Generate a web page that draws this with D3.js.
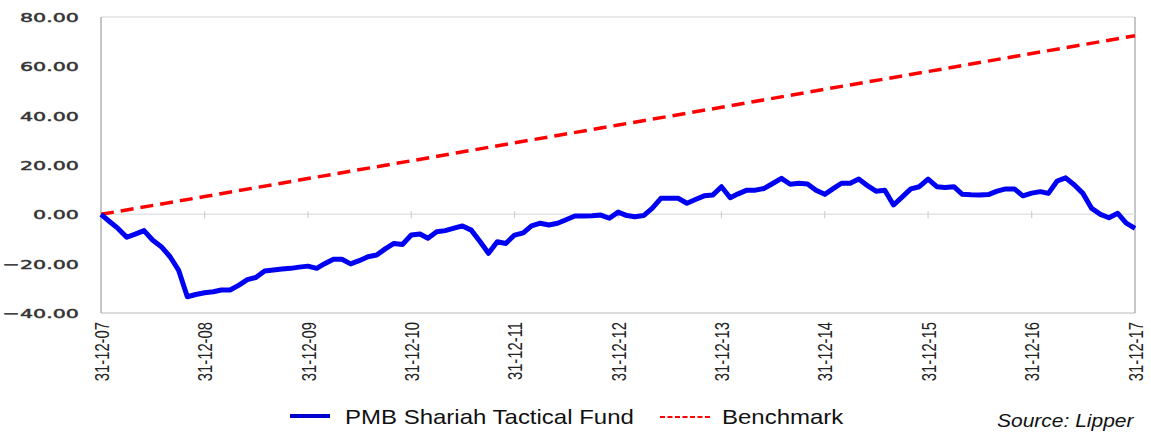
<!DOCTYPE html>
<html>
<head>
<meta charset="utf-8">
<script src="https://cdn.jsdelivr.net/npm/d3@7"></script>
<style>
  body { margin: 0; background: #fff; }
  svg { display: block; }
</style>
</head>
<body>
<svg id="chart" width="1151" height="432"></svg>
<script>
// fund cumulative return (%), one value per month end, 31-12-07 .. 31-12-17
var fundValues = [
  0, -3.0, -5.7, -9.3, -8.0, -6.6, -10.4, -13.1, -17.2, -22.6,
  -33.4, -32.5, -31.8, -31.4, -30.7, -30.7, -28.8, -26.5, -25.6, -23.0,
  -22.6, -22.2, -21.9, -21.4, -21.0, -21.9, -20.0, -18.2, -18.2, -20.1,
  -18.8, -17.2, -16.5, -14.0, -11.8, -12.2, -8.4, -8.0, -9.7, -7.1,
  -6.6, -5.6, -4.7, -6.4, -11.0, -15.8, -11.1, -11.8, -8.4, -7.5,
  -4.7, -3.6, -4.3, -3.6, -2.2, -0.7, -0.7, -0.6, -0.3, -1.6,
  0.9, -0.5, -1.0, -0.5, 2.4, 6.5, 6.5, 6.5, 4.5, 6.0,
  7.5, 7.8, 11.2, 6.7, 8.3, 9.8, 9.8, 10.5, 12.5, 14.6,
  12.2, 12.6, 12.3, 9.8, 8.1, 10.5, 12.6, 12.6, 14.3, 11.6,
  9.4, 9.8, 3.8, 7.0, 10.3, 11.2, 14.3, 11.2, 10.9, 11.2,
  8.1, 7.9, 7.8, 8.0, 9.4, 10.3, 10.3, 7.5, 8.6, 9.2,
  8.5, 13.5, 14.8, 11.9, 8.5, 2.4, 0.0, -1.4, 0.4, -3.6,
  -5.7
];

// benchmark at each year end
var benchYears = [2007, 2008, 2009, 2010, 2011, 2012, 2013, 2014, 2015, 2016, 2017];
var benchValues = [0, 7.2, 14.5, 21.7, 29.0, 36.2, 43.4, 50.7, 57.9, 65.2, 72.4];

var yTicks = [-40, -20, 0, 20, 40, 60, 80];

var fundName = "PMB Shariah Tactical Fund";
var benchName = "Benchmark";
var sourceText = "Source: Lipper";

var svg = d3.select("#chart");

// plot box (note: "top" is a reserved window property, so use other names)
var plotLeft = 101, plotRight = 1135, plotTop = 17, plotBottom = 313;

// month-end dates for the fund series
var fundData = fundValues.map(function (v, i) {
    return { date: new Date(2007, 12 + i, 0), value: v };
});
var benchData = benchYears.map(function (yr, i) {
    return { date: new Date(yr, 11, 31), value: benchValues[i] };
});

var x = d3.scaleTime()
    .domain([new Date(2007, 11, 31), new Date(2017, 11, 31)])
    .range([plotLeft, plotRight]);

var y = d3.scaleLinear()
    .domain([-40, 80])
    .range([plotBottom, plotTop]);

// frame
svg.append("line").attr("x1", plotLeft).attr("x2", plotRight).attr("y1", plotTop).attr("y2", plotTop)
    .attr("stroke", "#d4d4d4").attr("stroke-width", 1.2);
svg.append("line").attr("x1", plotLeft).attr("x2", plotRight).attr("y1", plotBottom).attr("y2", plotBottom)
    .attr("stroke", "#d0d0d0").attr("stroke-width", 1.5);
svg.append("line").attr("x1", plotLeft).attr("x2", plotLeft).attr("y1", plotTop).attr("y2", plotBottom)
    .attr("stroke", "#a0a0a0").attr("stroke-width", 1.2);
svg.append("line").attr("x1", plotRight).attr("x2", plotRight).attr("y1", plotTop).attr("y2", plotBottom)
    .attr("stroke", "#a0a0a0").attr("stroke-width", 1.2);

// zero line with year ticks
var tickDates = benchData.map(function (d) { return d.date; });
svg.append("line").attr("x1", plotLeft).attr("x2", plotRight).attr("y1", y(0)).attr("y2", y(0))
    .attr("stroke", "#e4e4e4").attr("stroke-width", 1.5);
svg.selectAll(".zt")
    .data(tickDates.slice(1, -1))
    .enter()
    .append("line")
    .attr("class", "zt")
    .attr("x1", d => x(d)).attr("x2", d => x(d))
    .attr("y1", y(0) - 3).attr("y2", y(0) + 4)
    .attr("stroke", "#cfcfcf").attr("stroke-width", 1.2);

// y axis labels
var yAxis = svg.append("g")
    .attr("transform", "translate(" + plotLeft + ",0)")
    .call(d3.axisLeft(y).tickValues(yTicks).tickFormat(d3.format(".2f")).tickSize(0));
yAxis.select(".domain").remove();
yAxis.selectAll("text")
    .attr("x", -22 / 1.6)
    .attr("dy", "0.36em")
    .attr("transform", "scale(1.6,1)")
    .style("font-family", "DejaVu Sans, Verdana, sans-serif")
    .style("font-size", "12.9px")
    .style("fill", "#333")
    .style("stroke", "#333")
    .style("stroke-width", 0.45);

// x axis labels (rotated)
var xAxis = svg.append("g")
    .attr("transform", "translate(0," + plotBottom + ")")
    .call(d3.axisBottom(x).tickValues(tickDates).tickFormat(d3.timeFormat("%d-%m-%y")).tickSize(0));
xAxis.select(".domain").remove();
xAxis.selectAll("text")
    .attr("x", 0)
    .attr("y", 0)
    .attr("dy", "0.36em")
    .attr("transform", "translate(0,9) rotate(-90) scale(0.74,1)")
    .style("text-anchor", "end")
    .style("font-family", "Liberation Sans, Arial, sans-serif")
    .style("font-size", "20px")
    .style("fill", "#222");

// series
var line = d3.line()
    .x(d => x(d.date))
    .y(d => y(d.value));

svg.append("path")
    .datum(benchData)
    .attr("d", line)
    .attr("fill", "none")
    .attr("stroke", "#ff0000")
    .attr("stroke-width", 3.5)
    .attr("stroke-dasharray", "13,7");

svg.append("path")
    .datum(fundData)
    .attr("d", line)
    .attr("fill", "none")
    .attr("stroke", "#0000f2")
    .attr("stroke-width", 5)
    .attr("stroke-linejoin", "round");

// legend
var legend = svg.append("g");
legend.append("line")
    .attr("x1", 290).attr("x2", 330).attr("y1", 416).attr("y2", 416)
    .attr("stroke", "#0000cc").attr("stroke-width", 4);
legend.append("text")
    .attr("transform", "translate(345,424) scale(1.2,1)")
    .style("font-family", "Liberation Sans, Arial, sans-serif")
    .style("font-size", "20px")
    .style("fill", "#111")
    .text(fundName);
legend.append("line")
    .attr("x1", 660).attr("x2", 712).attr("y1", 417).attr("y2", 417)
    .attr("stroke", "#ff0000").attr("stroke-width", 2)
    .attr("stroke-dasharray", "5,2.5");
legend.append("text")
    .attr("transform", "translate(722,424) scale(1.2,1)")
    .style("font-family", "Liberation Sans, Arial, sans-serif")
    .style("font-size", "20px")
    .style("fill", "#111")
    .text(benchName);
legend.append("text")
    .attr("transform", "translate(997,427) scale(1.2,1)")
    .style("font-family", "Liberation Sans, Arial, sans-serif")
    .style("font-size", "17.5px")
    .style("font-style", "italic")
    .style("fill", "#111")
    .text(sourceText);
</script>
</body>
</html>
